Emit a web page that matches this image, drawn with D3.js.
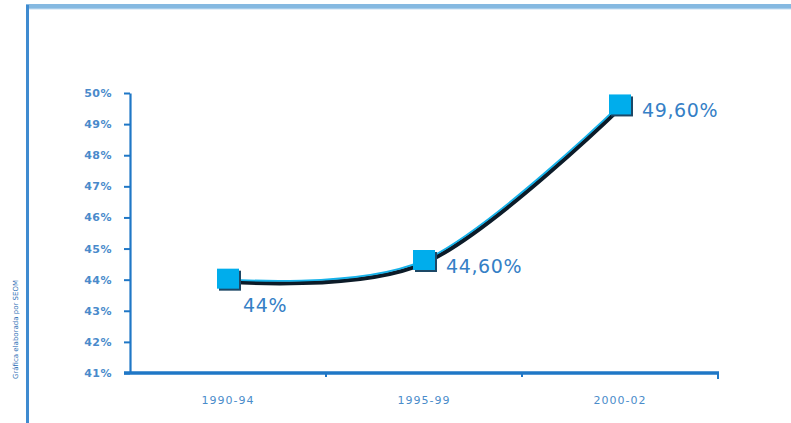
<!DOCTYPE html>
<html>
<head>
<meta charset="utf-8">
<script src="https://cdn.jsdelivr.net/npm/d3@7"></script>
<style>
  html, body { margin: 0; padding: 0; background: #ffffff; }
  svg { display: block; }
  text { font-family: "DejaVu Sans", Verdana, sans-serif; }
</style>
</head>
<body>
<svg id="chart" width="791" height="423"></svg>
<script>
// Periods and share values (%)
const periods = ["1990-94", "1995-99", "2000-02"];
const shares = [44, 44.6, 49.6];
const pointLabels = ["44%", "44,60%", "49,60%"];
const yTicks = [41, 42, 43, 44, 45, 46, 47, 48, 49, 50];
const sourceNote = "Gráfica elaborada por SEOM";

const svg = d3.select("#chart");
const W = 791, H = 423;

// Frame: light blue top band and a darker left rule
svg.append("rect").attr("x", 26).attr("y", 4).attr("width", W - 26).attr("height", 5)
  .attr("fill", "#85b9e1");
svg.append("rect").attr("x", 26).attr("y", 8.5).attr("width", W - 26).attr("height", 1)
  .attr("fill", "#c5def2");
svg.append("rect").attr("x", 26).attr("y", 5).attr("width", 3).attr("height", H - 5)
  .attr("fill", "#3f8bd0");

// Scales
const x = d3.scaleBand().domain(periods).range([130, 718]).paddingInner(0).paddingOuter(0);
const y = d3.scaleLinear().domain([41, 50]).range([373, 93]);
const cx = d => x(d) + x.bandwidth() / 2;

const axisBlue = "#1f77c6";
const textBlue = "#3580c6";

// Y axis
const yAxis = d3.axisLeft(y).tickValues(yTicks).tickFormat(d => d + "%")
  .tickSize(6).tickSizeOuter(0).tickPadding(12);
const gy = svg.append("g").attr("transform", "translate(130,0)").call(yAxis);
gy.select(".domain").attr("stroke", axisBlue).attr("stroke-width", 2.2);
gy.selectAll(".tick line").attr("stroke", axisBlue).attr("stroke-width", 2);
gy.selectAll(".tick text")
  .attr("fill", "#4a8acb")
  .style("font-size", "11px")
  .style("font-weight", "bold")
  .style("letter-spacing", "0.5px");

// X axis: thick baseline with ticks at category boundaries
svg.append("line").attr("x1", 124).attr("x2", x.range()[1] + 1)
  .attr("y1", y(41)).attr("y2", y(41))
  .attr("stroke", axisBlue).attr("stroke-width", 3.5);
const bounds = periods.map(p => x(p) + x.bandwidth());
svg.selectAll("line.xtick").data(bounds).join("line")
  .attr("class", "xtick")
  .attr("x1", d => d).attr("x2", d => d)
  .attr("y1", y(41)).attr("y2", (d, i) => y(41) + (i === bounds.length - 1 ? 6 : 4))
  .attr("stroke", axisBlue).attr("stroke-width", 2);
svg.selectAll("text.xlab").data(periods).join("text")
  .attr("class", "xlab")
  .attr("x", d => cx(d)).attr("y", 404)
  .attr("text-anchor", "middle")
  .attr("fill", "#4a8cca")
  .style("font-size", "11px")
  .style("letter-spacing", "1px")
  .text(d => d);

// Series line: dark body with a cyan highlight
const pts = periods.map((p, i) => [cx(p), y(shares[i])]);
const line = d3.line().curve(d3.curveCardinal.tension(0));
svg.append("path").attr("d", line(pts))
  .attr("transform", "translate(1,1.8)")
  .attr("fill", "none").attr("stroke", "#0c1b28").attr("stroke-width", 4.2);
svg.append("path").attr("d", line(pts))
  .attr("transform", "translate(-0.3,-0.6)")
  .attr("fill", "none").attr("stroke", "#16b2ea").attr("stroke-width", 1.8);

// Square markers with a drop shadow
const ms = 22;
svg.selectAll("rect.shadow").data(pts).join("rect")
  .attr("class", "shadow")
  .attr("x", d => d[0] - ms / 2 + 2).attr("y", d => d[1] - ms / 2 + 2)
  .attr("width", ms).attr("height", ms - 2)
  .attr("fill", "#1d4866");
svg.selectAll("rect.marker").data(pts).join("rect")
  .attr("class", "marker")
  .attr("x", d => d[0] - ms / 2).attr("y", d => d[1] - ms / 2)
  .attr("width", ms).attr("height", ms - 2)
  .attr("fill", "#00adec");

// Value labels
svg.selectAll("text.val").data(pts).join("text")
  .attr("class", "val")
  .attr("x", (d, i) => i === 0 ? d[0] + 15 : d[0] + 22)
  .attr("y", (d, i) => i === 0 ? d[1] + 32 : d[1] + 12)
  .attr("fill", textBlue)
  .style("font-size", "19px")
  .style("letter-spacing", "0.6px")
  .text((d, i) => pointLabels[i]);

// Source note, rotated along the left edge
svg.append("text")
  .attr("transform", "translate(18,280) rotate(-90)")
  .attr("text-anchor", "end")
  .attr("fill", "#2f6fb5")
  .style("font-size", "7px")
  .text(sourceNote);
</script>
</body>
</html>
